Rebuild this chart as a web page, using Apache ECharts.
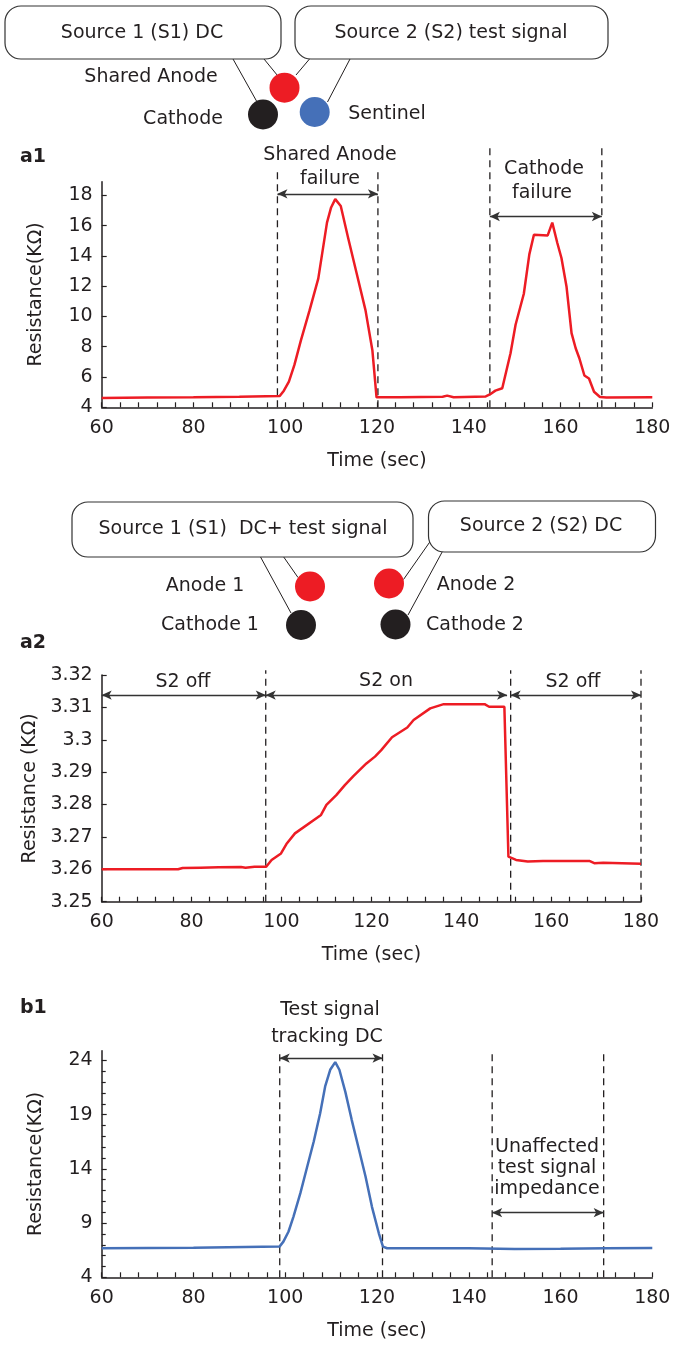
<!DOCTYPE html>
<html>
<head>
<meta charset="utf-8">
<script src="https://cdn.jsdelivr.net/npm/echarts@6/dist/echarts.min.js"></script>
<style>
  html, body { margin: 0; padding: 0; background: #fff; }
  #chart { width: 674px; height: 1348px; }
</style>
</head>
<body>
<div id="chart"></div>
<script>
// ---- data ----
const xTicks = [60, 80, 100, 120, 140, 160, 180]

const a1Time = [60, 70, 80, 90, 98.8, 99.7, 100.8, 102.0, 103.4, 105.3, 107.2, 109.1, 110.0, 110.9, 112.1, 113.7, 115.6, 117.5, 119.0, 119.9,
  125, 134.3, 135.3, 136.7, 143.7, 144.6, 145.8, 147.3, 149.1, 150.2, 152.0, 153.2, 154.2, 157.2, 158.2, 159.3, 160.2, 161.3, 162.4,
  163.3, 164.1, 165.2, 166.2, 167.3, 168.6, 170, 180]
const a1Res = [4.62, 4.65, 4.67, 4.70, 4.74, 5.1, 5.7, 6.8, 8.4, 10.4, 12.5, 16.2, 17.2, 17.75, 17.3, 15.2, 12.8, 10.4, 7.75, 4.66,
  4.66, 4.70, 4.77, 4.66, 4.72, 4.85, 5.1, 5.26, 7.57, 9.45, 11.5, 14.1, 15.4, 15.35, 16.2, 14.85, 13.86, 11.98, 8.9,
  7.9, 7.24, 6.1, 5.9, 5.03, 4.68, 4.65, 4.66]
const a1YTicks = [4, 6, 8, 10, 12, 14, 16, 18]

const a2Time = [60, 77, 78, 82, 86, 91, 92, 94, 96.6, 97.8, 99.9, 101.1, 103.0, 108.8, 110.0, 112.2, 114.1, 116.0, 118.9, 120.8,
  122.2, 124.6, 128.0, 129.4, 133.1, 136.1, 145.2, 146.2, 149.6, 150.5, 152.2, 154.8, 158.2, 168.5, 169.6, 171.6, 180]
const a2Res = [3.2600, 3.2600, 3.2604, 3.2605, 3.2606, 3.2607, 3.2605, 3.2608, 3.2608, 3.2629, 3.2649, 3.2678, 3.2711, 3.2768, 3.2799,
  3.2829, 3.2860, 3.2888, 3.2927, 3.2948, 3.2968, 3.3008, 3.3038, 3.3061, 3.3097, 3.3110, 3.3110, 3.3102, 3.3102, 3.2639, 3.2629,
  3.2624, 3.2626, 3.2626, 3.2619, 3.2620, 3.2617]
const a2YTicks = [3.25, 3.26, 3.27, 3.28, 3.29, 3.3, 3.31, 3.32]

const b1Time = [60, 80, 98.75, 99.6, 100.7, 101.8, 103.3, 104.7, 106.2, 107.6, 108.7, 109.8, 110.9, 111.8, 113.1, 114.5, 116.0,
  117.5, 118.9, 120.4, 121.3, 122.2, 140, 150, 160, 170, 180]
const b1Res = [6.68, 6.72, 6.83, 7.29, 8.2, 9.6, 11.76, 14.06, 16.5, 19.1, 21.6, 23.14, 23.85, 23.14, 21.1, 18.5, 15.9,
  13.3, 10.5, 8.06, 6.83, 6.68, 6.68, 6.62, 6.64, 6.68, 6.7]
const b1YTicks = [4, 9, 14, 19, 24]

// dashed marker times and arrow spans [from, to, level]
const a1Marks = [98.3, 120.2, 144.6, 169.0]
const a1Arrows = [[98.3, 120.2, 18.1], [144.6, 169.0, 16.6]]
const a2Marks = [96.5, 151, 180]
const a2Arrows = [[60, 96.5, 3.3138], [96.5, 150.2, 3.3138], [151, 180, 3.3138]]
const b1Marks = [98.8, 121.2, 145.1, 169.4]
const b1Arrows = [[98.8, 121.2, 24.22], [145.1, 169.4, 9.96]]

const ink = '#231f20'
const red = '#ed1c24'
const blue = '#4570b8'
const font = 'DejaVu Sans'
const fs = 19

const zip = (xs, ys) => xs.map((x, i) => [x, ys[i]])

const mychart = echarts.init(document.getElementById('chart'), null, { renderer: 'canvas' })

const grids = [
  { left: 101.7, top: 181.7, width: 550.6, height: 225.6 },
  { left: 101.7, top: 675, width: 539.3, height: 226.7 },
  { left: 101.7, top: 1050.7, width: 550.6, height: 226.6 }
].map(g => Object.assign({ containLabel: false, outerBoundsMode: 'none' }, g))

const xAxis = [0, 1, 2].map(i => ({
  type: 'value', gridIndex: i, min: 60, max: 180, interval: 20,
  axisLine: { onZero: false, lineStyle: { color: ink, width: 1.5 } },
  axisTick: { inside: true, length: 5, lineStyle: { color: ink, width: 1.2 } },
  minorTick: { show: true, splitNumber: 5, length: 5, lineStyle: { color: ink, width: 1.2 } },
  axisLabel: { color: ink, fontFamily: font, fontSize: fs, margin: 11, customValues: xTicks },
  splitLine: { show: false },
  name: 'Time (sec)', nameLocation: 'middle', nameGap: 44,
  nameTextStyle: { color: ink, fontFamily: font, fontSize: fs }
}))

const yBase = (i, min, max, ticks, name, minor) => ({
  type: 'value', gridIndex: i, min: min, max: max,
  axisLine: { show: true, onZero: false, lineStyle: { color: ink, width: 1.5 } },
  axisTick: { show: true, inside: true, length: 5, customValues: ticks, lineStyle: { color: ink, width: 1.2 } },
  minorTick: { show: minor, splitNumber: 5, length: 4, lineStyle: { color: ink, width: 1.2 } },
  axisLabel: { color: ink, fontFamily: font, fontSize: fs, margin: 9, customValues: ticks },
  splitLine: { show: false },
  name: name, nameLocation: 'middle', nameGap: 56,
  nameTextStyle: { color: ink, fontFamily: font, fontSize: fs }
})

const yAxis = [
  Object.assign(yBase(0, 4, 18.9, a1YTicks, 'Resistance(KΩ)', false), { interval: 2 }),
  Object.assign(yBase(1, 3.25, 3.32, a2YTicks, 'Resistance (KΩ)', false), { interval: 0.01 }),
  Object.assign(yBase(2, 4, 24.9, b1YTicks, 'Resistance(KΩ)', true), { interval: 5 })
]

const vline = (i, x, y0, y1) => ({
  type: 'line', xAxisIndex: i, yAxisIndex: i, data: [[x, y0], [x, y1]],
  symbol: 'none', clip: false, silent: true, z: 1,
  lineStyle: { color: ink, width: 1.3, type: [7, 5] }
})

const arrows = list => ({
  silent: true, symbol: ['arrow', 'arrow'], symbolSize: [7, 10],
  label: { show: false },
  lineStyle: { color: '#333', width: 1.3, type: 'solid' },
  data: list.map(a => [{ coord: [a[0], a[2]] }, { coord: [a[1], a[2]] }])
})

const trace = (i, data, color, arr) => ({
  type: 'line', xAxisIndex: i, yAxisIndex: i, data: data,
  showSymbol: false, symbol: 'none', z: 3,
  lineStyle: { color: color, width: 2.5 },
  markLine: arrows(arr)
})

const series = [
  trace(0, zip(a1Time, a1Res), red, a1Arrows),
  trace(1, zip(a2Time, a2Res), red, a2Arrows),
  trace(2, zip(b1Time, b1Res), blue, b1Arrows),
  vline(0, a1Marks[0], 4, 19.85), vline(0, a1Marks[1], 4, 19.85),
  vline(0, a1Marks[2], 4, 21.4), vline(0, a1Marks[3], 4, 21.4),
  ...a2Marks.map(x => vline(1, x, 3.25, 3.3215)),
  ...b1Marks.map(x => vline(2, x, 4, 24.9))
]

// ---- schematic drawings and annotations ----
const txt = (x, y, s, extra) => ({
  type: 'text', x: x, y: y, silent: true, z: 10,
  style: Object.assign({ text: s, fill: ink, fontSize: fs, fontFamily: font, align: 'center', verticalAlign: 'middle' }, extra || {})
})
const box = (x, y, w, h) => ({
  type: 'rect', shape: { x: x, y: y, width: w, height: h, r: 16 }, silent: true,
  style: { fill: '#fff', stroke: '#333', lineWidth: 1.2 }
})
const dot = (cx, cy, color) => ({
  type: 'circle', shape: { cx: cx, cy: cy, r: 15 }, silent: true, style: { fill: color }
})
const wire = (x1, y1, x2, y2) => ({
  type: 'line', shape: { x1: x1, y1: y1, x2: x2, y2: y2 }, silent: true,
  style: { stroke: ink, lineWidth: 1 }
})
const panel = (y, s) => txt(20, y, s, { align: 'left', fontWeight: 'bold' })

const graphic = [
  // top schematic
  wire(233, 59, 256.5, 101), wire(264, 59, 277.5, 75.5), wire(309.5, 59, 296, 75), wire(350, 59, 327.5, 102),
  box(5, 6, 276, 53), box(295, 6, 313, 53),
  txt(142, 33, 'Source 1 (S1) DC'), txt(451, 33, 'Source 2 (S2) test signal'),
  dot(284.5, 87.7, red), dot(263, 114.5, '#231f20'), dot(314.7, 112, blue),
  txt(151, 77, 'Shared Anode'), txt(183, 119, 'Cathode'), txt(387, 114, 'Sentinel'),
  // panel a1
  panel(157, 'a1'),
  txt(330, 155, 'Shared Anode'), txt(330, 179, 'failure'),
  txt(544, 169, 'Cathode'), txt(542, 193, 'failure'),
  // middle schematic
  wire(260, 556, 291, 613), wire(283, 556, 298, 577.5), wire(430, 541.7, 403.5, 579.5), wire(442.7, 551, 408, 615),
  box(72, 502, 341, 55), box(428.5, 501, 227, 51),
  txt(243, 529, 'Source 1 (S1)  DC+ test signal'), txt(541, 526, 'Source 2 (S2) DC'),
  dot(310, 586.5, red), dot(389, 583.5, red), dot(301, 625, '#231f20'), dot(395.5, 624.5, '#231f20'),
  txt(205, 586, 'Anode 1'), txt(210, 625.5, 'Cathode 1'), txt(476, 585, 'Anode 2'), txt(475, 625.5, 'Cathode 2'),
  // panel a2
  panel(643, 'a2'),
  txt(183, 682, 'S2 off'), txt(386, 681, 'S2 on'), txt(573, 682, 'S2 off'),
  // panel b1
  panel(1008, 'b1'),
  txt(330, 1010, 'Test signal'), txt(327, 1037, 'tracking DC'),
  txt(547, 1147, 'Unaffected'), txt(547, 1168, 'test signal'), txt(547, 1189, 'impedance')
]

mychart.setOption({
  backgroundColor: '#fff',
  animation: false,
  grid: grids,
  xAxis: xAxis,
  yAxis: yAxis,
  series: series,
  graphic: graphic
})
</script>
</body>
</html>
